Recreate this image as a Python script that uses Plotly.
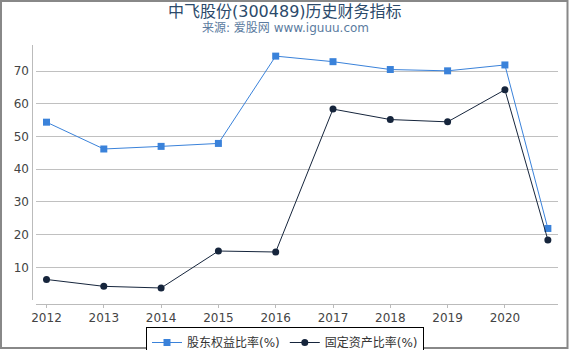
import plotly.graph_objects as go

years = [2012, 2013, 2014, 2015, 2016, 2017, 2018, 2019, 2020, 2020.75]
tick_years = [2012, 2013, 2014, 2015, 2016, 2017, 2018, 2019, 2020]
equity_ratio = [54.4, 46.2, 47.0, 47.9, 74.6, 72.9, 70.5, 70.1, 71.9, 21.9]
fixed_asset_ratio = [6.3, 4.2, 3.7, 15.0, 14.7, 58.4, 55.2, 54.5, 64.3, 18.4]
name_equity = "股东权益比率(%)"
name_fixed = "固定资产比率(%)"

FONT = "DejaVu Sans, Noto Sans CJK SC, sans-serif"
BLUE = "#3a82da"
DARK = "#16253c"

fig = go.Figure()
fig.add_trace(go.Scatter(x=years, y=equity_ratio, name=name_equity, mode="lines+markers",
                         line=dict(color=BLUE, width=1), marker=dict(symbol="square", size=7, color=BLUE)))
fig.add_trace(go.Scatter(x=years, y=fixed_asset_ratio, name=name_fixed, mode="lines+markers",
                         line=dict(color=DARK, width=1), marker=dict(symbol="circle", size=7, color=DARK)))

L, R, T, B = 36, 12, 45, 46
W, H = 570, 350
pw, ph = W - L - R, H - T - B

def px(x):
    return (x - L) / pw

def py(y):
    return (H - B - y) / ph

def cx(x):
    return x / W

def cy(y):
    return 1 - y / H

fig.update_layout(
    width=W, height=H,
    margin=dict(l=L, r=R, t=T, b=B, pad=0, autoexpand=False),
    paper_bgcolor="white", plot_bgcolor="white",
    font=dict(family=FONT, size=12, color="#444"),
    showlegend=True,
    legend=dict(orientation="h", xref="container", yref="container", x=cx(285), xanchor="center",
                y=cy(327), yanchor="top",
                bordercolor="#000", borderwidth=1, font=dict(size=12, color="#333"),
                itemwidth=30, tracegroupgap=0, bgcolor="white"),
    xaxis=dict(range=[2012 - (46.5 - 36) / 57.3, 2012 + (558 - 46.5) / 57.3], tickvals=tick_years,
               showgrid=False, zeroline=False, showline=True, linecolor="#bbb", linewidth=1,
               ticks="outside", ticklen=3, tickcolor="#bbb", tickfont=dict(size=12, color="#444")),
    yaxis=dict(range=[-1.2, 78], tickvals=[10, 20, 30, 40, 50, 60, 70], showgrid=True,
               gridcolor="#c0c0c0", gridwidth=1, zeroline=False, showline=False,
               ticks="", tickfont=dict(size=12, color="#444"), ticklabelstandoff=6),
    annotations=[
        dict(text="中飞股份(300489)历史财务指标", x=px(285), y=py(11), xref="paper", yref="paper",
             showarrow=False, font=dict(size=16, color="#2b4a6b", family=FONT), xanchor="center", yanchor="middle"),
        dict(text="来源: 爱股网 www.iguuu.com", x=px(285), y=py(28), xref="paper", yref="paper",
             showarrow=False, font=dict(size=12, color="#5b7ba0", family=FONT), xanchor="center", yanchor="middle"),
    ],
    shapes=[
        dict(type="rect", xref="paper", yref="paper", x0=px(1), x1=px(567.5), y0=py(348), y1=py(1),
             line=dict(color="#888", width=2), fillcolor="rgba(0,0,0,0)", layer="above"),
        dict(type="line", xref="paper", yref="paper", x0=px(32.5), x1=px(32.5), y0=py(300), y1=py(45),
             line=dict(color="#bbb", width=1)),
    ],
)

fig.write_html("out.html")
